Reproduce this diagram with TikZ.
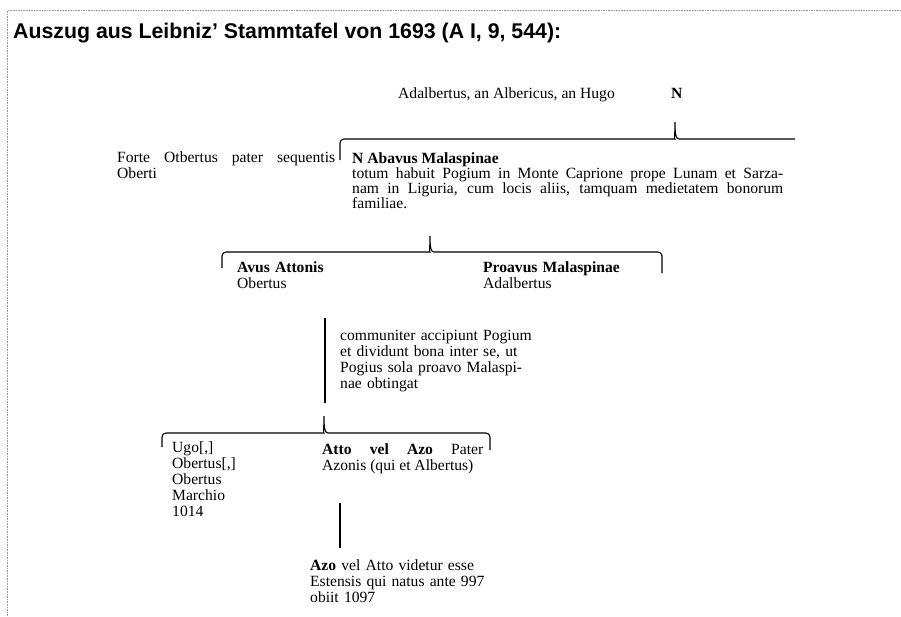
\documentclass[tikz,border=0pt]{standalone}
\usepackage{fontspec}
\setmainfont{Liberation Serif}
\newfontfamily\headfont{Liberation Sans}
\begin{document}
\begin{tikzpicture}[x=1pt,y=-1pt,
  txt/.style={anchor=base west,inner sep=0pt,font=\fontsize{15.6}{16}\selectfont},
  block/.style={txt,align=left,text width=#1},
  para/.style={txt,align=justify,text width=#1},
  brace/.style={draw=black,line width=1.1pt},
  stem/.style={draw=black,line width=2.4pt},
  frame/.style={draw=black!40,line width=0.8pt,dash pattern=on 1.6pt off 1pt}]
\useasboundingbox (0,0) rectangle (901,616);
% page frame (open at right and bottom)
\draw[frame] (7.5,616) -- (7.5,10.5) -- (901,10.5);
% heading
\node[anchor=base west,inner sep=0pt,font=\headfont\bfseries\fontsize{21.3}{24}\selectfont] (title) at (13,38)
  {Auszug aus Leibniz’ Stammtafel von 1693 (A I, 9, 544):};
% generation of N
\node[txt] (alt) at (398,98) {Adalbertus, an Albericus, an Hugo};
\node[txt,font=\bfseries\fontsize{15.6}{16}\selectfont] (n) at (671,98) {N};
\node[para=218pt] (forte) at (117,162)
  {Forte Otbertus pater sequentis\linebreak Oberti};
\node[para=431pt,font=\fontsize{15.6}{15}\selectfont] (abavus) at (352,163)
  {\textbf{N Abavus Malaspinae}\\
   totum habuit Pogium in Monte Caprione prope Lunam et Sarza-\linebreak
   nam in Liguria, cum locis aliis, tamquam medietatem bonorum\linebreak
   familiae.};
% brace below N
\coordinate (b1l) at (340,160);
\coordinate (b1p) at (675,122);
\coordinate (b1r) at (795,139);
\draw[brace] (b1l) [rounded corners=4pt] -- (340,139) -- (671,139) [sharp corners]
  .. controls (674,139) and (675,135) .. (b1p)
  .. controls (675,135) and (676,139) .. (679,139) -- (b1r);
% children of N Abavus
\node[block=150pt] (avus) at (237,272) {\textbf{Avus Attonis}\\Obertus};
\node[block=170pt] (proavus) at (483,272) {\textbf{Proavus Malaspinae}\\Adalbertus};
\coordinate (b2l) at (222,268);
\coordinate (b2p) at (430,236);
\coordinate (b2r) at (662,273);
\draw[brace] (b2l) [rounded corners=4pt] -- (222,252) -- (426,252) [sharp corners]
  .. controls (429,252) and (430,248) .. (b2p)
  .. controls (430,248) and (431,252) .. (434,252) [rounded corners=4pt] -- (662,252) -- (b2r);
% note on the division of Pogium
\coordinate (s1t) at (325,318);
\coordinate (s1b) at (325,403);
\draw[stem] (s1t) -- (s1b);
\node[block=200pt] (note) at (340,340)
  {communiter accipiunt Pogium\\et dividunt bona inter se, ut\\Pogius sola proavo Malaspi-\\nae obtingat};
% children of Obertus
\coordinate (b3l) at (162,447);
\coordinate (b3p) at (324,416);
\coordinate (b3r) at (490,450);
\draw[brace] (b3l) [rounded corners=4pt] -- (162,433) -- (320,433) [sharp corners]
  .. controls (323,433) and (324,429) .. (b3p)
  .. controls (324,429) and (325,433) .. (328,433) [rounded corners=4pt] -- (490,433) -- (b3r);
\node[block=100pt] (ugo) at (172,452)
  {Ugo[,]\\Obertus[,]\\Obertus\\Marchio\\1014};
\node[para=161pt] (atto) at (322,454)
  {\textbf{Atto vel Azo} Pater\linebreak Azonis (qui et Albertus)};
% son of Atto
\coordinate (s2t) at (340,503);
\coordinate (s2b) at (340,548);
\draw[stem,line width=2pt] (s2t) -- (s2b);
\node[block=200pt] (azo) at (310,570)
  {\textbf{Azo} vel Atto videtur esse\\Estensis qui natus ante 997\\obiit 1097};
\end{tikzpicture}
\end{document}
